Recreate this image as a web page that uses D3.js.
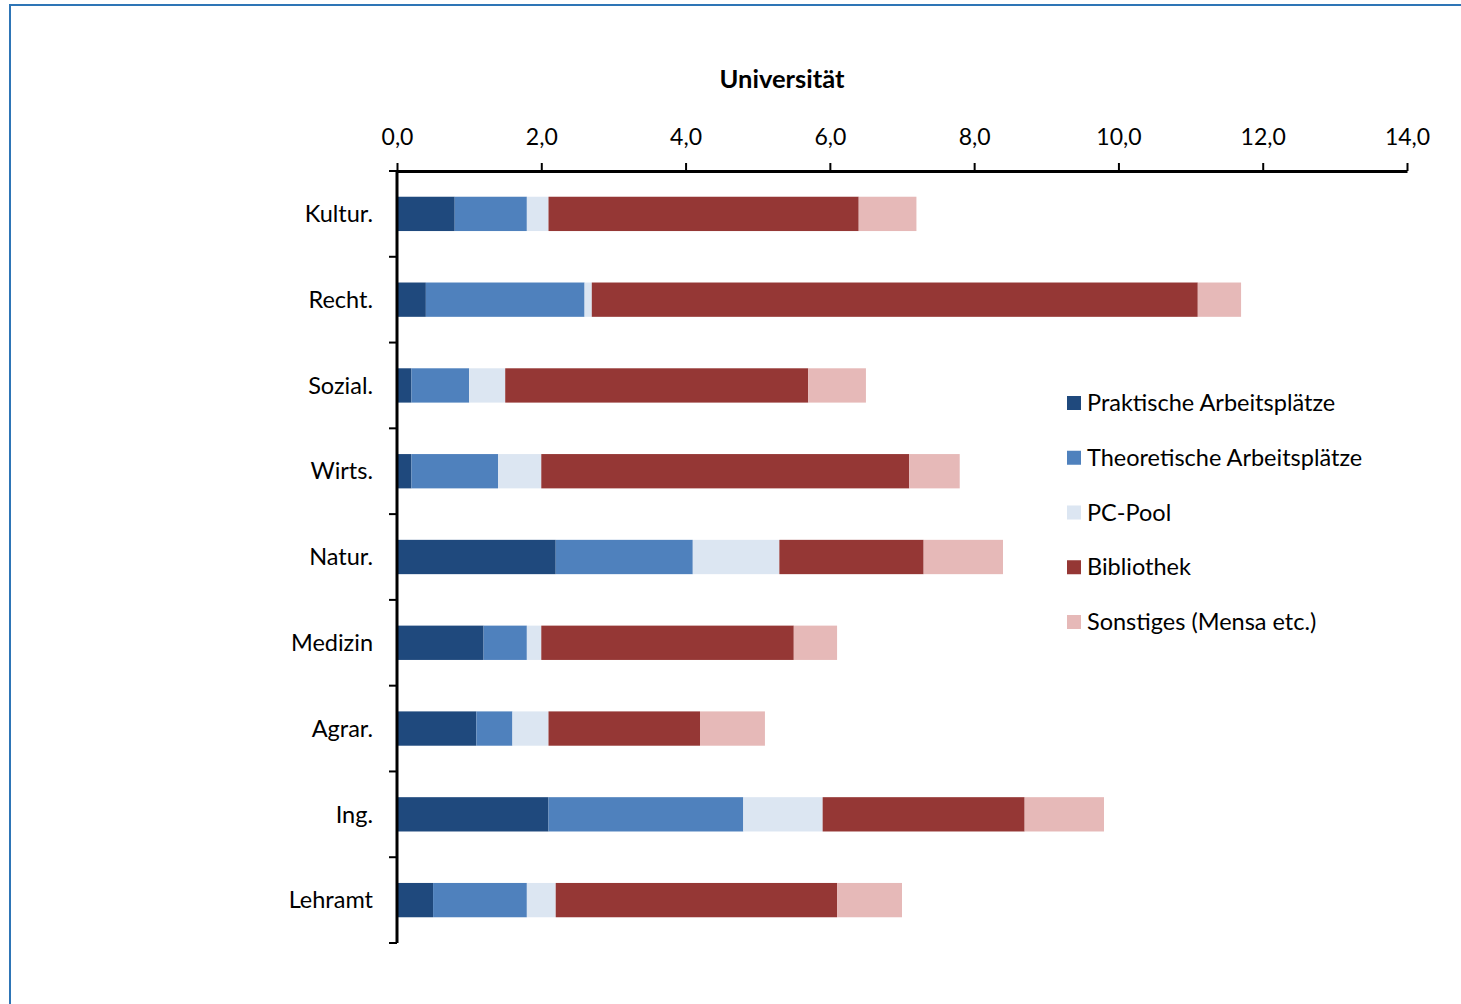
<!DOCTYPE html>
<html>
<head>
<meta charset="utf-8">
<script src="https://cdn.jsdelivr.net/npm/d3@7"></script>
<style>
  body { margin: 0; background: #fff; }
  svg { display: block; font-family: Lato, "Noto Sans", sans-serif; }
</style>
</head>
<body>
<svg id="chart"></svg>
<script>
// categories (top to bottom)
const categories = ["Kultur.", "Recht.", "Sozial.", "Wirts.", "Natur.", "Medizin", "Agrar.", "Ing.", "Lehramt"];

// series names
const seriesNames = ["Praktische Arbeitsplätze", "Theoretische Arbeitsplätze", "PC-Pool", "Bibliothek", "Sonstiges (Mensa etc.)"];

// values per series, in category order
const praktisch   = [0.8, 0.4, 0.2, 0.2, 2.2, 1.2, 1.1, 2.1, 0.5];
const theoretisch = [1.0, 2.2, 0.8, 1.2, 1.9, 0.6, 0.5, 2.7, 1.3];
const pcPool      = [0.3, 0.1, 0.5, 0.6, 1.2, 0.2, 0.5, 1.1, 0.4];
const bibliothek  = [4.3, 8.4, 4.2, 5.1, 2.0, 3.5, 2.1, 2.8, 3.9];
const sonstiges   = [0.8, 0.6, 0.8, 0.7, 1.1, 0.6, 0.9, 1.1, 0.9];

const xTicks = [0, 2, 4, 6, 8, 10, 12, 14];
const colors = ["#1F497D", "#4F81BD", "#DCE6F2", "#953735", "#E6B9B8"];

const width = 1461, height = 1004;
const margin = { top: 171, right: 54, bottom: 61, left: 397 };

const svg = d3.select("#chart").attr("width", width).attr("height", height);

// outer frame
svg.append("rect")
    .attr("x", 10).attr("y", 5)
    .attr("width", width + 20).attr("height", height + 20)
    .attr("fill", "none")
    .attr("stroke", "#2E75B6")
    .attr("stroke-width", 2);

// build table for the stack
const allSeries = [praktisch, theoretisch, pcPool, bibliothek, sonstiges];
const table = categories.map((c, i) => {
  const row = { cat: c };
  seriesNames.forEach((s, j) => { row[s] = allSeries[j][i]; });
  return row;
});
const stacked = d3.stack().keys(seriesNames)(table);

const x = d3.scaleLinear()
    .domain([0, 14])
    .range([margin.left, width - margin.right]);

const y = d3.scaleBand()
    .domain(categories)
    .range([margin.top, height - margin.bottom])
    .paddingInner(0.6)
    .paddingOuter(0.3);

const color = d3.scaleOrdinal().domain(seriesNames).range(colors);

// bars
svg.append("g")
  .selectAll("g")
  .data(stacked)
  .join("g")
    .attr("fill", d => color(d.key))
  .selectAll("rect")
  .data(d => d)
  .join("rect")
    .attr("x", d => x(d[0]))
    .attr("y", d => y(d.data.cat))
    .attr("width", d => x(d[1]) - x(d[0]))
    .attr("height", y.bandwidth());

// top axis
const xAxis = d3.axisTop(x)
    .tickValues(xTicks)
    .tickSize(8)
    .tickSizeOuter(0)
    .tickPadding(18)
    .tickFormat(d => d3.format(".1f")(d).replace(".", ","));

const gx = svg.append("g")
    .attr("transform", `translate(0,${margin.top})`)
    .call(xAxis);
gx.select(".domain").attr("stroke", "#000").attr("stroke-width", 3);
gx.selectAll(".tick line").attr("stroke", "#000").attr("stroke-width", 2);
gx.selectAll(".tick text").attr("fill", "#000").style("font-size", "23px").style("font-family", "Lato, 'Noto Sans', sans-serif");

// left axis line with ticks at band boundaries
const step = y.step();
const yTop = margin.top, yBottom = height - margin.bottom;
const gy = svg.append("g");
gy.append("line")
    .attr("x1", x(0)).attr("x2", x(0))
    .attr("y1", yTop).attr("y2", yBottom)
    .attr("stroke", "#000").attr("stroke-width", 3);
gy.selectAll("line.tk")
  .data(d3.range(categories.length + 1))
  .join("line")
    .attr("class", "tk")
    .attr("x1", x(0) - 8).attr("x2", x(0))
    .attr("y1", i => yTop + i * step)
    .attr("y2", i => yTop + i * step)
    .attr("stroke", "#000").attr("stroke-width", 2);
gy.selectAll("text")
  .data(categories)
  .join("text")
    .attr("x", x(0) - 24)
    .attr("y", d => y(d) + y.bandwidth() / 2)
    .attr("dy", "0.35em")
    .attr("text-anchor", "end")
    .style("font-size", "23.5px")
    .text(d => d);

// title
svg.append("text")
    .attr("x", 782).attr("y", 88)
    .attr("text-anchor", "middle")
    .style("font-size", "25.5px")
    .style("font-weight", "bold")
    .text("Universität");

// legend
const legend = svg.append("g").attr("transform", "translate(1067,403)");
const items = legend.selectAll("g")
  .data(seriesNames)
  .join("g")
    .attr("transform", (d, i) => `translate(0,${i * 54.75})`);
items.append("rect")
    .attr("x", 0).attr("y", -7)
    .attr("width", 14).attr("height", 14)
    .attr("fill", d => color(d));
items.append("text")
    .attr("x", 20).attr("y", 0)
    .attr("dy", "0.35em")
    .style("font-size", "23.5px")
    .text(d => d);
</script>
</body>
</html>
